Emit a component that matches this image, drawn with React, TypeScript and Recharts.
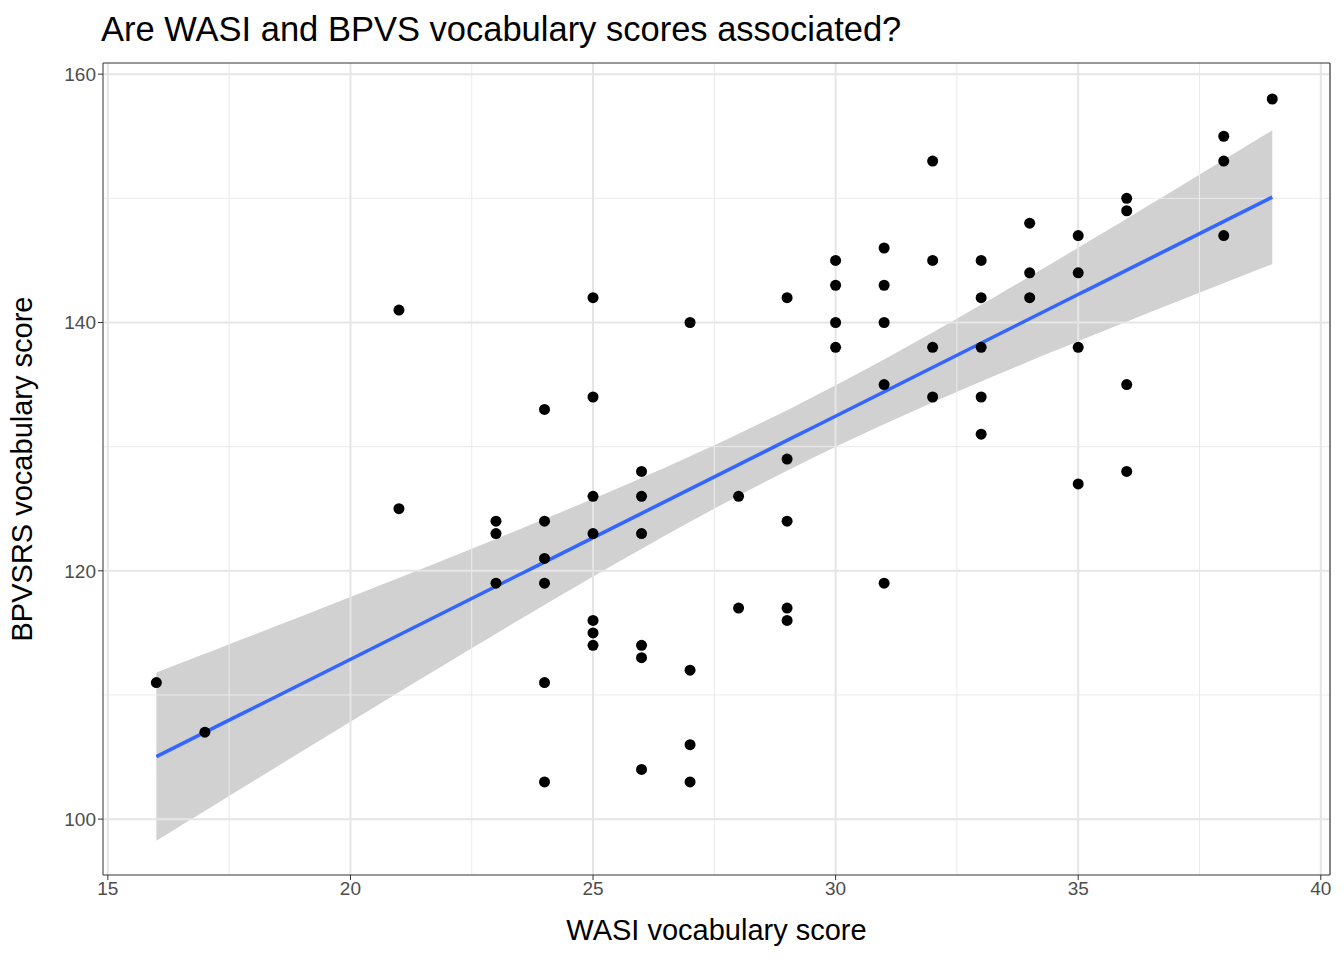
import React from "react";
import {
  ComposedChart,
  Scatter,
  Line,
  Area,
  XAxis,
  YAxis,
  ReferenceLine,
} from "recharts";

// WASI score, BPVS score pairs
const wasi = [
  16, 17, 21, 21, 23, 23, 23, 24, 24, 24, 24, 24, 24, 25, 25, 25, 25, 25, 25, 25,
  26, 26, 26, 26, 26, 26, 27, 27, 27, 27, 28, 28, 29, 29, 29, 29, 29, 30, 30, 30,
  30, 31, 31, 31, 31, 31, 32, 32, 32, 32, 33, 33, 33, 33, 33, 34, 34, 34, 35, 35,
  35, 35, 36, 36, 36, 36, 38, 38, 38, 39,
];
const bpvs = [
  111, 107, 141, 125, 124, 123, 119, 133, 124, 121, 119, 111, 103, 142, 134, 126, 123, 116, 115, 114,
  128, 126, 123, 114, 113, 104, 140, 112, 106, 103, 126, 117, 142, 129, 124, 117, 116, 145, 143, 140,
  138, 146, 143, 140, 135, 119, 153, 145, 138, 134, 145, 142, 138, 134, 131, 148, 144, 142, 147, 144,
  138, 127, 150, 149, 135, 128, 155, 153, 147, 158,
];

const xMajor = [15, 20, 25, 30, 35, 40];
const xMinor = [17.5, 22.5, 27.5, 32.5, 37.5];
const yMajor = [100, 120, 140, 160];
const yMinor = [110, 130, 150];

const points = wasi.map((x, i) => ({ x, y: bpvs[i] }));

// linear fit with 95% confidence band (like geom_smooth(method = "lm"))
function fitLm() {
  const n = wasi.length;
  const mx = wasi.reduce((a, b) => a + b, 0) / n;
  const my = bpvs.reduce((a, b) => a + b, 0) / n;
  let sxx = 0, sxy = 0;
  wasi.forEach((x, i) => {
    sxx += (x - mx) ** 2;
    sxy += (x - mx) * (bpvs[i] - my);
  });
  const b = sxy / sxx;
  const a = my - b * mx;
  let sse = 0;
  wasi.forEach((x, i) => (sse += (bpvs[i] - a - b * x) ** 2));
  const s = Math.sqrt(sse / (n - 2));
  const t = 1.995;
  const out = [];
  const lo = Math.min(...wasi), hi = Math.max(...wasi);
  for (let k = 0; k <= 80; k++) {
    const x = lo + ((hi - lo) * k) / 80;
    const yh = a + b * x;
    const se = s * Math.sqrt(1 / n + (x - mx) ** 2 / sxx);
    out.push({ x, fit: yh, band: [yh - t * se, yh + t * se] });
  }
  return out;
}
const fitData = fitLm();

const font = "'Liberation Sans', Arial, sans-serif";

export default function App() {
  return (
    <div style={{ position: "relative", width: 1344, height: 960, margin: -8, fontFamily: font, background: "#fff" }}>
      <div style={{ position: "absolute", left: 101, top: 9, fontSize: 34.5, lineHeight: "40px", color: "#000" }}>
        Are WASI and BPVS vocabulary scores associated?
      </div>
      <ComposedChart
        width={1344}
        height={960}
        data={fitData}
        margin={{ top: 63, right: 14, bottom: 0, left: 0 }}
        style={{ fontFamily: font }}
      >
        <XAxis
          type="number"
          dataKey="x"
          domain={[14.9, 40.19]}
          ticks={xMajor}
          allowDataOverflow
          height={85}
          tickSize={5}
          tick={{ fill: "#4d4d4d", fontSize: 19 }}
          stroke="#333"
          label={{ value: "WASI vocabulary score", position: "insideBottom", offset: 20, style: { fontSize: 29, fill: "#000" } }}
        />
        <YAxis
          type="number"
          domain={[95.5, 160.9]}
          ticks={yMajor}
          allowDataOverflow
          width={103}
          tickSize={5}
          tick={{ fill: "#4d4d4d", fontSize: 19 }}
          stroke="#333"
          label={{ value: "BPVSRS vocabulary score", angle: -90, position: "insideLeft", offset: 22, style: { textAnchor: "middle", fontSize: 29, fill: "#000" } }}
        />
        {xMinor.map((v) => (
          <ReferenceLine key={"xm" + v} x={v} stroke="#ebebeb" strokeWidth={1} />
        ))}
        {yMinor.map((v) => (
          <ReferenceLine key={"ym" + v} y={v} stroke="#ebebeb" strokeWidth={1} />
        ))}
        {xMajor.map((v) => (
          <ReferenceLine key={"xM" + v} x={v} stroke="#e5e5e5" strokeWidth={2} />
        ))}
        {yMajor.map((v) => (
          <ReferenceLine key={"yM" + v} y={v} stroke="#e5e5e5" strokeWidth={2} />
        ))}
        <Scatter
          data={points}
          dataKey="y"
          isAnimationActive={false}
          shape={(p: any) => <circle cx={p.cx} cy={p.cy} r={5.5} fill="#000" />}
        />
        <Area
          dataKey="band"
          type="linear"
          stroke="none"
          fill="#999999"
          fillOpacity={0.45}
          isAnimationActive={false}
        />
        <Line
          dataKey="fit"
          type="linear"
          stroke="#3366FF"
          strokeWidth={3.5}
          dot={false}
          isAnimationActive={false}
        />
        <ReferenceLine x={40.19} stroke="#333" strokeWidth={1.2} />
        <ReferenceLine y={160.9} stroke="#333" strokeWidth={1.2} />
      </ComposedChart>
    </div>
  );
}
